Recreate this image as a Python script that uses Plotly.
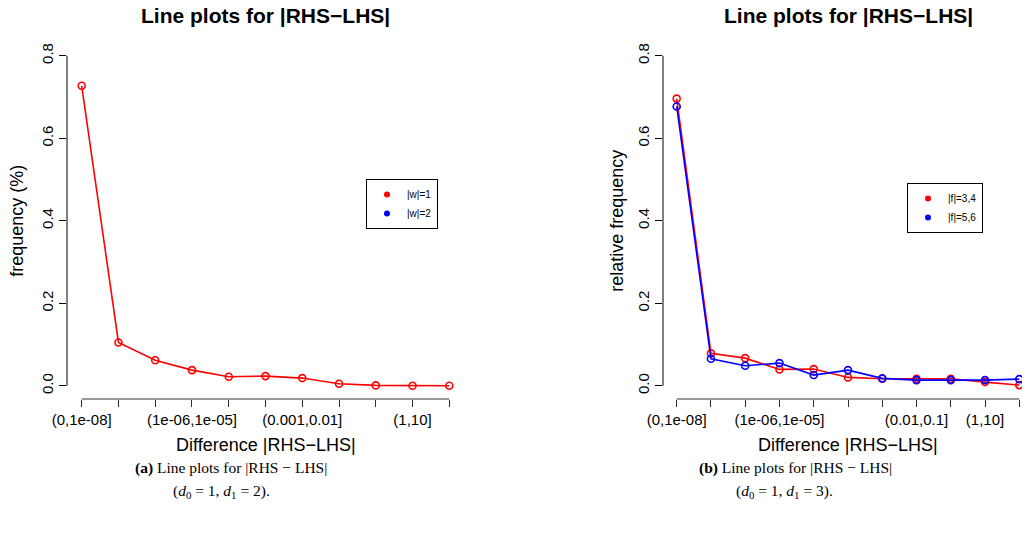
import plotly.graph_objects as go

# ---------------- data ----------------
categories = ["(0,1e-08]", "(1e-08,1e-07]", "(1e-07,1e-06]", "(1e-06,1e-05]",
              "(1e-05,1e-04]", "(1e-04,0.001]", "(0.001,0.01]", "(0.01,0.1]",
              "(0.1,1]", "(1,10]", "(10,100]"]
left_shown = ["(0,1e-08]", "(1e-06,1e-05]", "(0.001,0.01]", "(1,10]"]
right_shown = ["(0,1e-08]", "(1e-06,1e-05]", "(0.01,0.1]", "(1,10]"]

w1 = [0.727, 0.105, 0.062, 0.038, 0.022, 0.0235, 0.0187, 0.005, 0.001, 0.0, 0.0]
f34 = [0.696, 0.0785, 0.067, 0.0397, 0.0405, 0.0203, 0.017, 0.017, 0.017, 0.009, 0.0017]
f56 = [0.677, 0.0655, 0.0485, 0.055, 0.026, 0.038, 0.018, 0.0138, 0.0138, 0.0138, 0.0162]

y_ticks = [0.0, 0.2, 0.4, 0.6, 0.8]
left_legend = ["|w|=1", "|w|=2"]
right_legend = ["|f|=3,4", "|f|=5,6"]

title_text = "Line plots for |RHS\u2212LHS|"
xlab = "Difference |RHS\u2212LHS|"
ylab_left = "frequency (%)"
ylab_right = "relative frequency"
cap_a = ["<b>(a)</b> Line plots for |RHS \u2212 LHS|",
         "(<i>d</i><sub>0</sub> = 1, <i>d</i><sub>1</sub> = 2)."]
cap_b = ["<b>(b)</b> Line plots for |RHS \u2212 LHS|",
         "(<i>d</i><sub>0</sub> = 1, <i>d</i><sub>1</sub> = 3)."]

RED = "#FF0000"
BLUE = "#0000FF"

# ---------------- layout helpers ----------------
W, H = 1022, 538
def fx(px):
    return px / W
def fy(py):
    return 1 - py / H

SANS = "Liberation Sans, Arial, Helvetica, sans-serif"
SERIF = "Liberation Serif, Times New Roman, serif"
n = len(categories)
ext = 0.04 * (n - 1)  # R's 4% axis expansion

fig = go.Figure()

def line_trace(y, color, xa, ya):
    return go.Scatter(x=categories, y=y, mode="lines+markers", xaxis=xa, yaxis=ya,
                      line=dict(color=color, width=1.6),
                      marker=dict(symbol="circle-open", size=7, color=color,
                                  line=dict(width=1.6, color=color)),
                      showlegend=False, cliponaxis=False, hoverinfo="x+y")

fig.add_trace(line_trace(w1, RED, "x", "y"))
fig.add_trace(line_trace(f34, RED, "x2", "y2"))
fig.add_trace(line_trace(f56, BLUE, "x2", "y2"))

# legend-only entries (R legend with pch=20 dots)
for name, color in zip(left_legend, [RED, BLUE]):
    fig.add_trace(go.Scatter(x=[None], y=[None], mode="markers", name=name,
                             marker=dict(color=color, size=6), xaxis="x", yaxis="y",
                             legend="legend"))
for name, color in zip(right_legend, [RED, BLUE]):
    fig.add_trace(go.Scatter(x=[None], y=[None], mode="markers", name=name,
                             marker=dict(color=color, size=6), xaxis="x2", yaxis="y2",
                             legend="legend2"))

# plot regions (pixels)
L_x0, L_x1 = 67, 464
R_x0, R_x1 = 663, 1033
Y0, Y1 = 42.5, 399
r_units_per_px = (n - 1 + 2 * ext) / (R_x1 - R_x0)
r_range_hi = -ext + (W - R_x0) * r_units_per_px

xcommon = dict(type="category", showgrid=False, zeroline=False, showline=False,
               automargin=False,
               ticks="outside", ticklen=7, tickwidth=1, tickcolor="#333333",
               tickfont=dict(family=SANS, size=15, color="black"),
               tickvals=categories)
ycommon = dict(showgrid=False, zeroline=False, showline=False, automargin=False,
               ticks="outside", ticklen=7, tickwidth=1, tickcolor="black",
               tickfont=dict(family=SANS, size=15, color="black"),
               tickvals=y_ticks, ticktext=["%.1f" % v for v in y_ticks],
               tickangle=-90, range=[-0.04 * 0.8, 0.8 * 1.04],
               domain=[fy(Y1), fy(Y0)])

fig.update_layout(
    width=W, height=H, margin=dict(l=0, r=0, t=0, b=0, autoexpand=False),
    paper_bgcolor="white", plot_bgcolor="white",
    xaxis=dict(xcommon, domain=[fx(L_x0), fx(L_x1)], range=[-ext, n - 1 + ext],
               ticktext=[c if c in left_shown else "" for c in categories], anchor="y"),
    yaxis=dict(ycommon, anchor="x"),
    xaxis2=dict(xcommon, domain=[fx(R_x0), 1.0], range=[-ext, r_range_hi],
                ticktext=[c if c in right_shown else "" for c in categories], anchor="y2"),
    yaxis2=dict(ycommon, anchor="x2"),
    legend=dict(x=fx(366), y=fy(179), xanchor="left", yanchor="top",
                bordercolor="black", borderwidth=1, bgcolor="white",
                font=dict(family=SANS, size=10, color="black"),
                itemwidth=30, tracegroupgap=0),
    legend2=dict(x=fx(907), y=fy(183), xanchor="left", yanchor="top",
                 bordercolor="black", borderwidth=1, bgcolor="white",
                 font=dict(family=SANS, size=10, color="black"),
                 itemwidth=30, tracegroupgap=0),
    font=dict(family=SANS, color="black"),
)

# axis lines spanning first..last tick (R style)
for xa, ya in [("x", "y"), ("x2", "y2")]:
    fig.add_shape(type="line", xref=xa, yref=ya + " domain",
                  x0=categories[0], x1=categories[-1], y0=0, y1=0,
                  line=dict(color="#333333", width=1))
    fig.add_shape(type="line", xref=xa + " domain", yref=ya,
                  x0=0, x1=0, y0=y_ticks[0], y1=y_ticks[-1],
                  line=dict(color="black", width=1))

ann = []
# titles
for cx in [(L_x0 + L_x1) / 2, (R_x0 + R_x1) / 2]:
    ann.append(dict(text="<b>%s</b>" % title_text, x=fx(cx), y=fy(15), xref="paper", yref="paper",
                    showarrow=False, xanchor="center", yanchor="middle",
                    font=dict(family=SANS, size=21, color="black")))
    ann.append(dict(text=xlab, x=fx(cx), y=fy(445), xref="paper", yref="paper",
                    showarrow=False, xanchor="center", yanchor="middle",
                    font=dict(family=SANS, size=18, color="black")))
# y labels
for txt, px in [(ylab_left, 17), (ylab_right, 617)]:
    ann.append(dict(text=txt, x=fx(px), y=fy((Y0 + Y1) / 2), xref="paper", yref="paper",
                    showarrow=False, xanchor="center", yanchor="middle", textangle=-90,
                    font=dict(family=SANS, size=18, color="black")))
# captions
for lines, c1, c2 in [(cap_a, 231, 221), (cap_b, 795, 784)]:
    ann.append(dict(text=lines[0], x=fx(c1), y=fy(468), xref="paper", yref="paper",
                    showarrow=False, xanchor="center", yanchor="middle",
                    font=dict(family=SERIF, size=15.5, color="black")))
    ann.append(dict(text=lines[1], x=fx(c2), y=fy(491), xref="paper", yref="paper",
                    showarrow=False, xanchor="center", yanchor="middle",
                    font=dict(family=SERIF, size=15.5, color="black")))
fig.update_layout(annotations=ann)

fig.write_html("out.html", config={"displayModeBar": False},
               post_script="document.body.style.margin='0';")
